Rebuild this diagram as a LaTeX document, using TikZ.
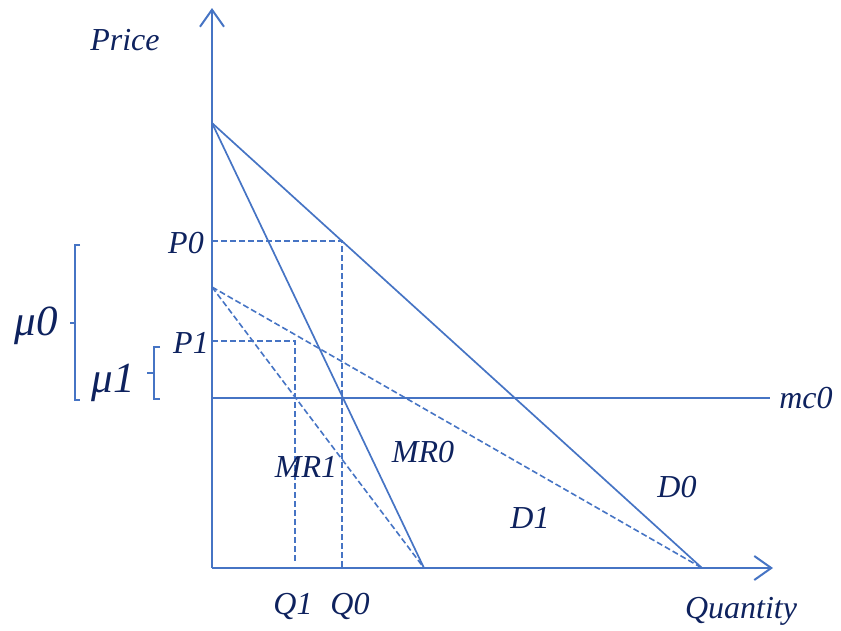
\documentclass[tikz,border=0pt]{standalone}
\usepackage{fontspec}
\setmainfont{Liberation Serif}
\usetikzlibrary{arrows.meta}
\definecolor{lineblue}{RGB}{70,116,196}
\definecolor{textnavy}{RGB}{14,34,94}
\begin{document}
\begin{tikzpicture}[x=1pt,y=-1pt,
  ln/.style={draw=lineblue,line width=1.7pt},
  axis/.style={draw=lineblue,line width=2pt,-{Straight Barb[length=17pt,width=24pt,line width=2pt]}},
  dsh/.style={draw=lineblue,line width=1.6pt,dash pattern=on 6pt off 3pt},
  lbl/.style={text=textnavy,font=\fontsize{32}{34}\selectfont\itshape,inner sep=0pt},
  mu/.style={text=textnavy,font=\fontsize{43}{46}\selectfont\itshape,inner sep=0pt},
  brk/.style={draw=lineblue,line width=1.5pt}]
\useasboundingbox (0,0) rectangle (841,630);
% coordinates
\coordinate (O) at (212,568);
\coordinate (ytop) at (212,8);
\coordinate (xend) at (773,568);
\coordinate (A) at (212,123);
\coordinate (B) at (212,287);
\coordinate (Dend) at (702,568);
\coordinate (MRend) at (424,568);
\coordinate (mcL) at (212,398);
\coordinate (mcR) at (770,398);
\coordinate (P0) at (212,241);
\coordinate (E0) at (342,241);
\coordinate (Q0) at (342,568);
\coordinate (P1) at (212,341);
\coordinate (E1) at (295,341);
\coordinate (Q1) at (295,563);
% curves
\draw[ln] (A) -- (Dend);
\draw[ln] (A) -- (MRend);
\draw[dsh] (B) -- (Dend);
\draw[dsh] (B) -- (MRend);
\draw[ln] (mcL) -- (mcR);
\draw[dsh] (P0) -- (E0) -- (Q0);
\draw[dsh] (P1) -- (E1) -- (Q1);
% axes
\draw[axis] (O) -- (ytop);
\draw[axis] (O) -- (xend);
% labels
\node[lbl] (price) at (125,40) {Price};
\node[lbl] (quantity) at (741,611) {Quantity};
\node[lbl] (p0) at (186,243) {P0};
\node[lbl] (p1) at (191,343) {P1};
\node[lbl] (q1) at (293,606) {Q1};
\node[lbl] (q0) at (350,606) {Q0};
\node[lbl] (mr1) at (306,467) {MR1};
\node[lbl] (mr0) at (423,452) {MR0};
\node[lbl] (d0) at (677,487) {D0};
\node[lbl] (d1) at (530,518) {D1};
\node[lbl] (mc0) at (806,398) {mc0};
\node[mu] (mu0) at (36,326) {μ0};
\node[mu] (mu1) at (113,383) {μ1};
% brackets
\draw[brk] (80,245) -- (75,245) -- (75,400) -- (80,400);
\draw[brk] (75,323) -- (70,323);
\draw[brk] (160,347) -- (154,347) -- (154,399) -- (160,399);
\draw[brk] (154,373) -- (147,373);
\end{tikzpicture}
\end{document}
